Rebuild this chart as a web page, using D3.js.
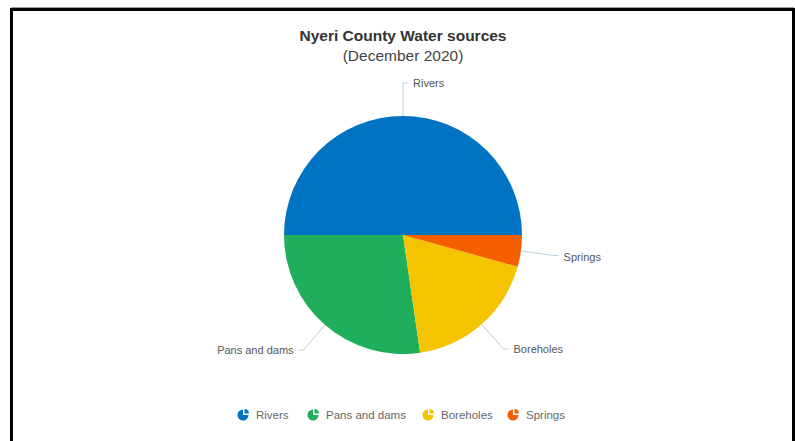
<!DOCTYPE html>
<html>
<head>
<meta charset="utf-8">
<script src="https://cdn.jsdelivr.net/npm/d3@7"></script>
<style>
  body { margin: 0; background: #fff; }
  svg { display: block; font-family: "Liberation Sans", Arial, sans-serif; }
</style>
</head>
<body>
<svg id="chart"></svg>
<script>
// data (share of sources, %)
const categories = ["Rivers", "Pans and dams", "Boreholes", "Springs"];
const values = [50, 27.3, 18.4, 4.3];
const colors = ["#0073c4", "#1fae5b", "#f5c400", "#f55f00"];

const width = 795;
const height = 441;
const cx = 403, cy = 235, radius = 119;

const svg = d3.select("#chart")
    .attr("width", width)
    .attr("height", height);

// outer frame (top, left and right edges only)
svg.append("path")
    .attr("d", "M11.5,441 V7.5 H793.5 V441")
    .attr("fill", "none")
    .attr("stroke", "#999")
    .attr("stroke-width", 1);
svg.append("path")
    .attr("d", "M11.5,441 V9.5 H793.5 V441")
    .attr("fill", "none")
    .attr("stroke", "#000")
    .attr("stroke-width", 3);

// title
svg.append("text")
    .attr("x", cx).attr("y", 41)
    .attr("text-anchor", "middle")
    .attr("font-size", 15.5)
    .attr("font-weight", "bold")
    .attr("fill", "#333")
    .text("Nyeri County Water sources");
svg.append("text")
    .attr("x", cx).attr("y", 61)
    .attr("text-anchor", "middle")
    .attr("font-size", 15.5)
    .attr("fill", "#444")
    .text("(December 2020)");

const data = categories.map((c, i) => ({ name: c, value: values[i], color: colors[i] }));

// slices run counter-clockwise from 3 o'clock
const pie = d3.pie()
    .value((d) => d.value)
    .sort(null)
    .startAngle(Math.PI / 2)
    .endAngle(Math.PI / 2 - 2 * Math.PI);

const arc = d3.arc().innerRadius(0).outerRadius(radius);
const arcs = pie(data);

const g = svg.append("g").attr("transform", `translate(${cx},${cy})`);

g.selectAll("path.slice")
    .data(arcs)
    .join("path")
    .attr("class", "slice")
    .attr("d", arc)
    .attr("fill", (d) => d.data.color);

// labels with connectors
const ext = 33, hook = 5;
const labels = g.selectAll("g.label")
    .data(arcs)
    .join("g")
    .attr("class", "label");

function pt(a, r) {
    return [Math.sin(a) * r, -Math.cos(a) * r];
}

labels.each(function (d) {
    const mid = (d.startAngle + d.endAngle) / 2;
    const p0 = pt(mid, radius);
    const p1 = pt(mid, radius + ext);
    const right = p1[0] >= -0.5;
    const p2 = [p1[0] + (right ? hook : -hook), p1[1]];
    const sel = d3.select(this);
    sel.append("path")
        .attr("d", d3.line()([p0, p1, p2]))
        .attr("fill", "none")
        .attr("stroke", "#b8d3dc")
        .attr("stroke-width", 1);
    sel.append("text")
        .attr("x", p2[0] + (right ? 5 : -5))
        .attr("y", p2[1] + (mid > Math.PI * 0.6 && mid < Math.PI * 1.4 ? 1.5 : 0) + (Math.abs(mid - Math.PI / 2) < 0.4 || Math.abs(mid + 1.5 * Math.PI) < 0.4 ? 2 : 0))
        .attr("dy", "0.35em")
        .attr("text-anchor", right ? "start" : "end")
        .attr("font-size", 11)
        .attr("fill", "#555")
        .text(d.data.name);
});

// legend
const legendX = [243, 313, 428, 513];
const legend = svg.append("g").attr("transform", "translate(0,415)");
const icon = d3.arc().innerRadius(0).outerRadius(5.5);

const items = legend.selectAll("g.item")
    .data(data)
    .join("g")
    .attr("class", "item")
    .attr("transform", (d, i) => `translate(${legendX[i]},0)`);

items.append("path")
    .attr("d", icon({ startAngle: Math.PI / 2, endAngle: 2 * Math.PI }))
    .attr("fill", (d) => d.color);
items.append("path")
    .attr("transform", "translate(1.5,-1.5)")
    .attr("d", d3.arc().innerRadius(0).outerRadius(4.5)({ startAngle: 0, endAngle: Math.PI / 2 }))
    .attr("fill", (d) => d.color);
items.append("text")
    .attr("x", 13)
    .attr("dy", "0.35em")
    .attr("font-size", 11.5)
    .attr("fill", "#666")
    .text((d) => d.name);
</script>
</body>
</html>
